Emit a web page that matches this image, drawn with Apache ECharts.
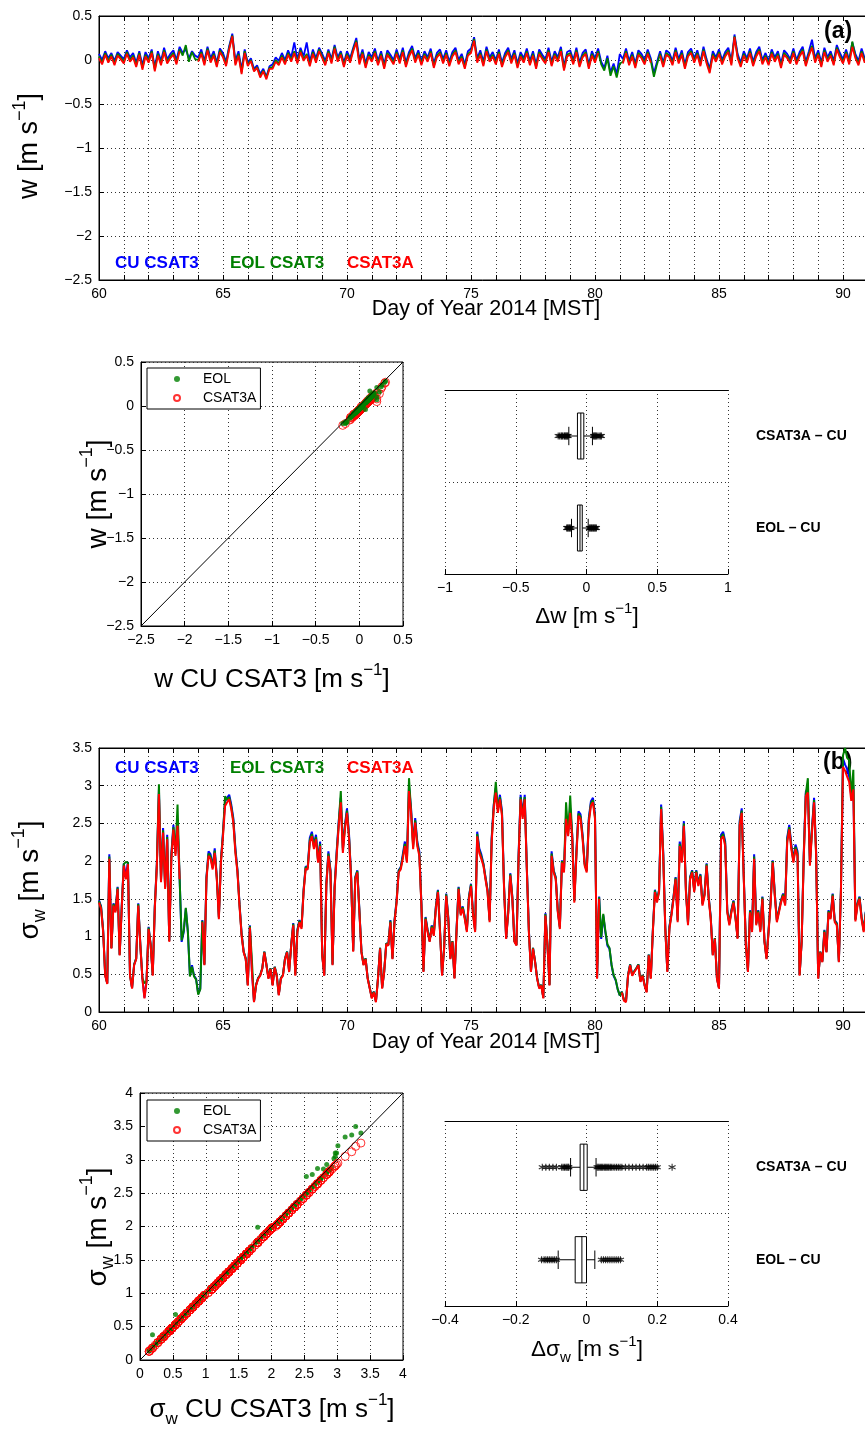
<!DOCTYPE html>
<html><head><meta charset="utf-8">
<script src="https://cdn.jsdelivr.net/npm/echarts@6/dist/echarts.min.js"></script>
<style>html,body{margin:0;padding:0;background:#fff}#c{width:865px;height:1431px}</style>
</head><body><div id="c"></div><script>
// ---------- DATA ----------
// Panel (a): vertical velocity w [m/s], 3-hourly samples from day 60
const wStart = 60, wStep = 1/8;
const wCU = [
0.07,0.0,0.1,0.02,0.08,-0.01,0.09,0.05,
0.01,0.11,0.03,0.08,-0.03,0.1,-0.06,0.09,
0.02,0.12,-0.08,0.1,-0.01,0.14,0.01,0.07,
0.11,0.0,0.15,0.08,0.12,0.02,0.1,0.05,
0.03,0.12,-0.01,0.15,0.02,0.1,-0.03,0.13,
0.08,-0.02,0.16,0.3,-0.01,0.1,-0.11,0.12,
-0.03,0.02,-0.1,-0.06,-0.16,-0.1,-0.19,-0.07,
-0.05,0.03,-0.01,0.08,0.0,0.11,0.03,0.2,
0.01,0.14,0.04,0.2,-0.02,0.12,0.02,0.14,
0.07,-0.01,0.12,0.01,0.17,0.03,0.1,-0.03,
0.1,0.02,0.14,0.25,0.0,0.12,-0.04,0.09,
0.03,0.13,-0.01,0.1,-0.05,0.11,0.06,0.0,
0.12,0.01,0.14,-0.03,0.09,0.16,0.02,0.11,
-0.01,0.1,0.03,0.13,-0.04,0.08,0.12,0.01,
0.11,-0.02,0.09,0.14,0.0,0.07,-0.05,0.1,
0.13,0.26,0.02,0.11,-0.02,0.15,0.03,0.09,
0.0,0.12,-0.03,0.08,0.14,0.01,0.11,-0.04,
0.09,0.02,0.13,-0.01,0.1,-0.05,0.12,0.06,
0.01,0.14,-0.02,0.1,0.03,0.15,-0.07,0.09,
0.11,0.0,0.14,-0.03,0.08,0.12,-0.05,0.1,
0.02,0.13,-0.02,-0.09,0.05,-0.14,-0.04,-0.16,
0.07,0.01,0.13,-0.01,0.09,-0.04,0.11,0.07,
0.0,0.12,0.02,-0.15,-0.02,0.1,-0.03,0.11,
0.08,-0.01,0.14,0.01,0.11,-0.05,0.09,0.13,
0.02,0.11,-0.02,0.15,0.01,-0.1,0.1,0.03,
0.12,0.0,0.09,0.14,-0.01,0.29,0.07,-0.03,
0.1,0.02,0.13,-0.02,0.09,0.15,0.0,0.08,
-0.01,0.12,0.03,0.1,-0.04,0.11,0.07,0.01,
0.13,0.0,0.09,0.15,-0.02,0.1,0.23,0.02,
0.11,-0.03,0.14,0.03,0.1,-0.01,0.17,0.08,
0.01,0.12,0.0,0.2,0.07,-0.01,0.13,0.02,
0.09];
const wEOL = [
0.04,-0.03,0.08,-0.01,0.06,-0.04,0.07,0.03,
-0.02,0.09,0.0,0.05,-0.06,0.08,-0.09,0.06,
-0.01,0.1,-0.11,0.07,-0.04,0.11,-0.02,0.04,
0.08,-0.03,0.12,0.05,0.17,-0.02,0.09,0.01,
0.0,0.09,-0.04,0.13,-0.01,0.07,-0.06,0.11,
0.05,-0.05,0.14,0.28,-0.04,0.07,-0.14,0.1,
-0.05,0.0,-0.12,-0.08,-0.18,-0.12,-0.2,-0.09,
-0.08,0.0,-0.04,0.05,-0.03,0.08,0.0,0.1,
-0.02,0.11,0.01,0.07,-0.05,0.09,-0.01,0.12,
0.04,-0.04,0.1,-0.02,0.15,0.0,0.08,-0.06,
0.07,-0.01,0.12,0.22,-0.03,0.09,-0.07,0.06,
0.0,0.1,-0.04,0.07,-0.08,0.08,0.03,-0.03,
0.09,-0.02,0.11,-0.06,0.06,0.13,-0.01,0.08,
-0.04,0.07,0.0,0.1,-0.07,0.05,0.09,-0.02,
0.08,-0.05,0.06,0.11,-0.03,0.04,-0.08,0.07,
0.1,0.24,-0.01,0.08,-0.05,0.12,0.0,0.06,
-0.03,0.09,-0.06,0.05,0.11,-0.02,0.08,-0.07,
0.06,-0.01,0.1,-0.04,0.07,-0.08,0.09,0.03,
-0.02,0.11,-0.05,0.07,0.0,0.12,-0.1,0.06,
0.08,-0.03,0.11,-0.06,0.05,0.09,-0.08,0.07,
-0.01,0.1,-0.05,-0.12,0.02,-0.18,-0.07,-0.2,
-0.04,-0.02,0.1,-0.04,0.06,-0.07,0.08,0.04,
-0.03,0.09,-0.01,-0.19,-0.05,0.07,-0.06,0.08,
0.05,-0.04,0.11,-0.02,0.08,-0.08,0.06,0.1,
-0.01,0.08,-0.05,0.12,-0.02,-0.13,0.07,0.0,
0.09,-0.03,0.06,0.11,-0.04,0.27,0.04,-0.06,
0.07,-0.01,0.1,-0.05,0.06,0.12,-0.03,0.05,
-0.04,0.09,0.0,0.07,-0.07,0.08,0.04,-0.02,
0.1,-0.03,0.06,0.12,-0.05,0.07,0.16,-0.01,
0.08,-0.06,0.11,0.0,0.07,-0.04,0.14,0.05,
-0.02,0.09,-0.03,0.21,0.04,-0.04,0.1,-0.01,
0.06];
const wC3A = [
0.02,-0.05,0.06,-0.03,0.04,-0.06,0.05,0.01,
-0.04,0.07,-0.02,0.03,-0.08,0.06,-0.11,0.04,
-0.03,0.08,-0.13,0.05,-0.06,0.09,-0.04,0.02,
0.06,-0.05,0.1,null,null,null,null,null,
-0.02,0.07,-0.06,0.11,-0.03,0.05,-0.08,0.09,
0.03,-0.07,0.12,0.27,-0.06,0.05,-0.16,0.08,
-0.07,-0.01,-0.13,-0.09,-0.2,-0.13,-0.22,-0.1,
-0.1,-0.02,-0.06,0.03,-0.05,0.06,-0.02,0.08,
-0.04,0.09,-0.01,0.05,-0.07,0.07,-0.03,0.1,
0.02,-0.06,0.08,-0.04,0.13,-0.02,0.06,-0.08,
0.05,-0.03,0.1,0.2,-0.05,0.07,-0.09,0.04,
-0.02,0.08,-0.06,0.05,-0.1,0.06,0.01,-0.05,
0.07,-0.04,0.09,-0.08,0.04,0.11,-0.03,0.06,
-0.06,0.05,-0.02,0.08,-0.09,0.03,0.07,-0.04,
0.06,-0.07,0.04,0.09,-0.05,0.02,-0.1,0.05,
0.08,0.22,-0.03,0.06,-0.07,0.1,-0.02,0.04,
-0.05,0.07,-0.08,0.03,0.09,-0.04,0.06,-0.09,
0.04,-0.03,0.08,-0.06,0.05,-0.1,0.07,0.01,
-0.04,0.09,-0.07,0.05,-0.02,0.1,-0.12,0.04,
0.06,-0.05,0.09,-0.08,0.03,0.07,-0.1,0.05,
-0.03,0.08,null,null,null,null,null,null,
null,-0.04,0.08,-0.06,0.04,-0.09,0.06,0.02,
-0.05,0.07,-0.03,null,null,0.05,-0.08,0.06,
0.03,-0.06,0.09,-0.04,0.06,-0.1,0.04,0.08,
-0.03,0.06,-0.07,0.1,-0.04,-0.15,0.05,-0.02,
0.07,-0.05,0.04,0.09,-0.06,0.26,0.02,-0.08,
0.05,-0.03,0.08,-0.07,0.04,0.1,-0.05,0.03,
-0.06,0.07,-0.02,0.05,-0.09,0.06,0.02,-0.04,
0.08,-0.05,0.04,0.1,-0.07,0.05,0.14,-0.03,
0.06,-0.08,0.09,-0.02,0.05,-0.06,0.12,0.03,
-0.04,0.07,-0.05,0.15,0.02,-0.06,0.08,-0.03,
0.04];

// Panel (b): sigma_w [m/s], 2-hourly samples from day 60
const sStart = 60, sStep = 1/12;
const sCU = [
1.48,1.40,1.09,0.49,0.38,2.09,0.85,1.44,1.35,1.66,0.76,1.40,
1.97,1.79,1.99,0.49,0.32,0.63,0.71,1.44,0.89,0.45,0.19,0.41,
1.13,0.89,0.49,1.40,1.97,2.95,1.75,2.44,1.66,2.35,0.94,2.09,
2.48,2.13,2.53,1.79,0.93,1.06,1.37,1.06,0.48,0.62,0.48,0.44,
0.24,0.31,1.22,0.63,1.79,2.13,2.09,1.92,2.17,1.79,1.26,2.01,
2.39,2.79,2.84,2.88,2.75,2.57,2.17,1.88,1.43,1.04,0.80,0.71,
0.36,1.15,0.54,0.14,0.36,0.45,0.49,0.58,0.80,0.63,0.45,0.58,
0.36,0.60,0.49,0.23,0.45,0.49,0.71,0.80,0.54,0.89,1.18,0.49,
1.09,1.22,1.13,1.62,1.93,1.92,2.31,2.39,2.22,2.35,2.01,2.26,
0.76,0.49,1.70,2.13,1.88,0.63,1.66,2.13,2.53,2.84,2.17,2.48,
2.70,2.35,1.79,0.81,1.79,1.88,1.35,0.80,0.63,0.71,0.45,0.32,
0.19,0.27,0.14,0.45,0.85,0.32,0.54,0.91,0.89,1.22,0.71,1.22,
1.48,1.88,1.92,2.09,2.26,2.01,2.99,2.70,2.22,2.57,2.26,2.13,
1.44,0.54,1.26,1.09,0.94,1.15,1.04,1.40,1.62,1.09,0.49,0.85,
1.57,1.26,0.71,0.94,0.45,1.09,1.66,1.31,1.40,1.26,1.09,1.53,
1.70,1.31,1.09,2.39,2.17,2.09,1.97,1.79,1.62,1.22,2.31,2.75,
2.97,2.70,2.88,2.66,1.66,0.98,1.33,1.84,1.53,0.94,0.89,2.06,
2.88,2.62,2.88,1.93,1.09,0.54,0.85,0.67,0.45,0.32,0.36,0.19,
1.31,0.89,0.36,2.13,1.88,1.79,1.35,1.13,2.01,1.88,2.62,2.39,
2.70,2.35,1.48,2.13,2.66,2.62,2.35,1.97,1.88,2.57,2.79,2.84,
2.62,0.45,1.53,0.97,1.28,1.06,0.88,0.84,0.62,0.48,0.42,0.30,
0.22,0.27,0.16,0.14,0.49,0.63,0.49,0.54,0.58,0.63,0.41,0.49,
0.36,0.27,0.76,0.45,1.09,1.62,1.48,1.62,2.75,2.13,1.13,0.54,
1.13,1.31,1.53,1.79,1.22,2.26,2.01,2.53,1.62,1.18,1.79,1.88,
1.62,1.88,1.70,1.83,1.44,1.57,1.97,1.53,1.26,0.76,0.98,0.45,
0.32,2.35,2.39,2.26,1.35,1.18,1.35,1.48,1.26,0.98,2.53,2.70,
1.79,0.89,0.54,1.35,1.09,2.09,1.18,1.35,1.09,1.53,0.94,0.71,
1.09,1.48,2.01,1.57,1.22,1.35,1.48,1.57,1.44,2.31,2.48,2.22,
2.01,2.22,2.13,0.49,0.94,2.09,2.92,2.97,1.97,2.44,2.84,2.13,
0.45,0.80,0.67,1.09,0.80,1.35,1.26,1.57,1.22,1.18,0.67,1.62,
3.36,3.28,3.22,3.12,2.86,3.01,1.23,1.44,1.53,1.26,1.09,1.33];
const sEOL = [
1.47,1.39,1.08,0.49,0.38,2.06,0.85,1.43,1.34,1.65,0.76,1.39,
1.96,1.99,1.98,0.49,0.32,0.63,0.71,1.43,0.89,0.45,0.38,0.41,
1.12,0.89,0.49,1.39,1.96,3.02,1.74,2.41,1.65,2.32,0.94,2.06,
2.45,2.10,2.75,1.78,0.95,1.08,1.38,1.07,0.47,0.60,0.47,0.43,
0.23,0.30,1.21,0.63,1.78,2.10,2.06,1.91,2.14,1.78,1.25,2.00,
2.36,2.86,2.81,2.85,2.72,2.54,2.14,1.87,1.42,1.03,0.80,0.71,
0.36,1.14,0.68,0.14,0.36,0.45,0.49,0.58,0.80,0.63,0.45,0.58,
0.36,0.60,0.49,0.23,0.45,0.49,0.71,0.80,0.54,0.89,1.17,0.49,
1.08,1.21,1.12,1.61,1.92,1.91,2.28,2.36,2.19,2.32,2.00,2.23,
0.76,0.49,1.69,2.10,1.87,0.63,1.65,2.10,2.50,2.93,2.14,2.45,
2.67,2.32,1.78,0.81,1.78,1.87,1.34,0.80,0.63,0.71,0.45,0.32,
0.19,0.27,0.14,0.45,0.85,0.32,0.54,0.91,0.89,1.21,0.71,1.21,
1.47,1.87,1.91,2.06,2.23,2.00,3.10,2.67,2.19,2.54,2.23,2.10,
1.43,0.54,1.25,1.08,0.94,1.14,1.03,1.39,1.61,1.08,0.49,0.85,
1.56,1.25,0.71,0.94,0.45,1.08,1.65,1.30,1.39,1.25,1.08,1.52,
1.69,1.30,1.08,2.36,2.14,2.06,1.96,1.78,1.61,1.21,2.28,2.72,
3.05,2.67,2.85,2.63,1.65,0.98,1.32,1.83,1.52,0.94,0.89,2.03,
2.85,2.59,2.85,1.92,1.08,0.54,0.85,0.67,0.45,0.32,0.36,0.19,
1.30,0.89,0.36,2.10,1.87,1.78,1.34,1.12,2.00,1.87,2.78,2.36,
2.87,2.32,1.47,2.10,2.63,2.59,2.32,1.96,1.87,2.54,2.76,2.81,
2.59,0.45,1.52,0.99,1.30,1.08,0.90,0.85,0.63,0.49,0.43,0.30,
0.22,0.27,0.16,0.14,0.49,0.63,0.49,0.54,0.58,0.63,0.41,0.49,
0.36,0.27,0.76,0.45,1.08,1.61,1.47,1.61,2.72,2.10,1.12,0.54,
1.12,1.30,1.52,1.78,1.21,2.23,2.00,2.50,1.61,1.17,1.78,1.87,
1.61,1.87,1.69,1.82,1.43,1.56,1.96,1.52,1.25,0.76,0.98,0.45,
0.32,2.32,2.36,2.23,1.34,1.17,1.34,1.47,1.25,0.98,2.50,2.67,
1.78,0.89,0.54,1.34,1.08,2.06,1.17,1.34,1.08,1.52,0.94,0.71,
1.08,1.47,2.00,1.56,1.21,1.34,1.47,1.56,1.43,2.28,2.45,2.19,
2.00,2.19,2.10,0.49,0.94,2.06,2.89,3.10,1.96,2.41,2.81,2.10,
0.45,0.80,0.67,1.08,0.80,1.34,1.25,1.56,1.21,1.17,0.67,1.61,
3.40,3.50,3.37,3.34,2.85,3.21,1.22,1.43,1.52,1.25,1.08,1.32];
const sC3A = [
1.45,1.37,1.06,0.48,0.37,2.03,0.84,1.41,1.32,1.63,0.75,1.37,
1.94,1.76,1.96,0.48,0.31,0.62,0.70,1.41,0.88,0.44,0.18,0.40,
1.10,0.88,0.48,1.37,1.94,2.89,1.72,2.38,1.63,2.29,0.93,2.03,
2.42,2.07,2.47,1.76,null,null,null,null,null,null,null,null,
null,null,1.19,0.62,1.76,2.07,2.03,1.89,2.11,1.76,1.23,1.98,
2.33,2.73,2.78,2.82,2.69,2.51,2.11,1.85,1.40,1.01,0.79,0.70,
0.35,1.12,0.53,0.13,0.35,0.44,0.48,0.57,0.79,0.62,0.44,0.57,
0.35,0.59,0.48,0.22,0.44,0.48,0.70,0.79,0.53,0.88,1.15,0.48,
1.06,1.19,1.10,1.59,1.90,1.89,2.25,2.33,2.16,2.29,1.98,2.20,
0.75,0.48,1.67,2.07,1.85,0.62,1.63,2.07,2.47,2.78,2.11,2.42,
2.64,2.29,1.76,0.80,1.76,1.85,1.32,0.79,0.62,0.70,0.44,0.31,
0.18,0.26,0.13,0.44,0.84,0.31,0.53,0.90,0.88,1.19,0.70,1.19,
1.45,1.85,1.89,2.03,2.20,1.98,2.93,2.64,2.16,2.51,2.20,2.07,
1.41,0.53,1.23,1.06,0.93,1.12,1.01,1.37,1.59,1.06,0.48,0.84,
1.54,1.23,0.70,0.93,0.44,1.06,1.63,1.28,1.37,1.23,1.06,1.50,
1.67,1.28,1.06,2.33,2.11,2.03,1.94,1.76,1.59,1.19,2.25,2.69,
2.91,2.64,2.82,2.60,1.63,0.97,1.30,1.81,1.50,0.93,0.88,2.00,
2.82,2.56,2.82,1.90,1.06,0.53,0.84,0.66,0.44,0.31,0.35,0.18,
1.28,0.88,0.35,2.07,1.85,1.76,1.32,1.10,1.98,1.85,2.56,2.33,
2.64,2.29,1.45,2.07,2.60,2.56,2.29,1.94,1.85,2.51,2.73,2.78,
2.56,0.44,1.50,null,null,null,null,null,null,null,null,null,
null,0.26,0.15,0.13,0.48,0.62,0.48,0.53,0.57,0.62,0.40,0.48,
0.35,0.26,0.75,0.44,1.06,1.59,1.45,1.59,2.69,2.07,1.10,0.53,
1.10,1.28,1.50,1.76,1.19,2.20,1.98,2.47,1.59,1.15,1.76,1.85,
1.59,1.85,1.67,1.80,1.41,1.54,1.94,1.50,1.23,0.75,0.97,0.44,
0.31,2.29,2.33,2.20,1.32,1.15,1.32,1.45,1.23,0.97,2.47,2.64,
1.76,0.88,0.53,1.32,1.06,2.03,1.15,1.32,1.06,1.50,0.93,0.70,
1.06,1.45,1.98,1.54,1.19,1.32,1.45,1.54,1.41,2.25,2.42,2.16,
1.98,2.16,2.07,0.48,0.93,2.03,2.86,2.91,1.94,2.38,2.78,2.07,
0.44,0.79,0.66,1.06,0.79,1.32,1.23,1.54,1.19,1.15,0.66,1.59,
3.25,3.20,3.12,3.05,2.80,2.95,1.20,1.41,1.50,1.23,1.06,1.30];

// Box plots: [min whisker, Q1, median, Q3, max whisker]
const boxCats = ['CSAT3A \u2013 CU', 'EOL \u2013 CU'];
const dwBoxC3A = [-0.125, -0.064, -0.040, -0.019, 0.042];
const dwBoxEOL = [-0.106, -0.064, -0.046, -0.030, 0.012];
const dwOutC3A = [-0.20,-0.19,-0.18,-0.175,-0.17,-0.16,-0.155,-0.15,-0.145,-0.14,-0.135,-0.13,0.05,0.055,0.06,0.065,0.07,0.08,0.09,0.10,0.105];
const dwOutEOL = [-0.14,-0.135,-0.13,-0.125,-0.12,-0.115,-0.11,0.02,0.025,0.03,0.035,0.04,0.045,0.05,0.055,0.06,0.065,0.07];
const dsBoxC3A = [-0.045, -0.018, -0.0075, 0.002, 0.027];
const dsBoxEOL = [-0.080, -0.032, -0.013, 0.0, 0.0235];
const dsOutC3A = [-0.125,-0.115,-0.105,-0.095,-0.085,-0.07,-0.066,-0.062,-0.058,-0.055,-0.052,-0.05,
  0.03,0.033,0.036,0.04,0.043,0.046,0.05,0.053,0.056,0.06,0.063,0.067,0.07,0.075,0.08,0.085,0.09,0.095,0.10,
  0.11,0.12,0.13,0.14,0.15,0.16,0.17,0.175,0.18,0.185,0.19,0.195,0.20,0.242];
const dsOutEOL = [-0.127,-0.12,-0.115,-0.11,-0.105,-0.10,-0.095,-0.09,-0.085,0.042,0.048,0.054,0.06,0.066,0.072,0.078,0.084,0.09,0.096];

const diagA = [[-2.5,-2.5],[0.5,0.5]];
const diagB = [[0,0],[4,4]];

// ---------- BUILD ----------
const FONT = 'Liberation Sans';
const BLUE = '#0000ff', GREEN = '#008000', RED = '#ff0000';
const ts = (start, step, arr) => arr.map((v, i) => [start + i * step, v]);
const pairs = (xs, ys) => { const o = []; for (let i = 0; i < xs.length; i++) if (xs[i] != null && ys[i] != null) o.push([xs[i], ys[i]]); return o; };
const fmt = v => String(Math.round(v * 100) / 100).replace('-', '\u2212');
const grid = { type: [1, 3], color: '#333', width: 1 };

function vAxis(o) {
  const base = {
    type: 'value', axisLine: { show: true, onZero: false, lineStyle: { color: '#000', width: 1 } },
    axisTick: { show: true, inside: true, length: 5, lineStyle: { color: '#000' } },
    axisLabel: { color: '#000', fontFamily: FONT, fontSize: 14, formatter: fmt, margin: 7 },
    splitLine: { show: true, lineStyle: grid }
  };
  return Object.assign(base, o);
}
const dayFmt = v => (Math.abs(v % 5) < 1e-6 ? String(v) : '');

const grids = [
  { left: 99, top: 16, width: 768.8, height: 264 },
  { left: 141, top: 362, width: 262, height: 264 },
  { left: 445, top: 390, width: 283, height: 184 },
  { left: 99, top: 748, width: 768.8, height: 264 },
  { left: 140, top: 1093, width: 263, height: 267 },
  { left: 445, top: 1121, width: 283, height: 185 }
].map((g, i) => Object.assign({ outerBoundsMode: 'none', containLabel: false,
  show: [0, 1, 3, 4].includes(i), borderColor: '#000', borderWidth: 1, backgroundColor: 'transparent' }, g));

const xAxes = [
  vAxis({ gridIndex: 0, min: 60, max: 91, interval: 1, axisLabel: { color: '#000', fontFamily: FONT, fontSize: 14, formatter: dayFmt, margin: 7 } }),
  vAxis({ gridIndex: 0, position: 'top', min: 60, max: 91, interval: 1, axisLabel: { show: false }, splitLine: { show: false } }),
  vAxis({ gridIndex: 1, min: -2.5, max: 0.5, interval: 0.5 }),
  vAxis({ gridIndex: 2, min: -1, max: 1, interval: 0.5 }),
  vAxis({ gridIndex: 2, position: 'top', min: -1, max: 1, interval: 0.5, axisTick: { show: false }, axisLabel: { show: false }, splitLine: { show: false } }),
  vAxis({ gridIndex: 3, min: 60, max: 91, interval: 1, axisLabel: { color: '#000', fontFamily: FONT, fontSize: 14, formatter: dayFmt, margin: 7 } }),
  vAxis({ gridIndex: 3, position: 'top', min: 60, max: 91, interval: 1, axisLabel: { show: false }, splitLine: { show: false } }),
  vAxis({ gridIndex: 4, min: 0, max: 4, interval: 0.5 }),
  vAxis({ gridIndex: 5, min: -0.4, max: 0.4, interval: 0.2 }),
  vAxis({ gridIndex: 5, position: 'top', min: -0.4, max: 0.4, interval: 0.2, axisTick: { show: false }, axisLabel: { show: false }, splitLine: { show: false } })
];
const catAxis = gi => ({
  type: 'category', gridIndex: gi, data: boxCats, inverse: true, position: 'right',
  axisLine: { show: false }, axisTick: { show: false },
  axisLabel: { margin: 28, align: 'left', fontWeight: 'bold', fontSize: 14, fontFamily: FONT, color: '#000', interval: 0 },
  splitLine: { show: true, interval: 0, lineStyle: grid }
});
const yAxes = [
  vAxis({ gridIndex: 0, min: -2.5, max: 0.5, interval: 0.5 }),
  vAxis({ gridIndex: 1, min: -2.5, max: 0.5, interval: 0.5 }),
  catAxis(2),
  vAxis({ gridIndex: 3, min: 0, max: 3.5, interval: 0.5 }),
  vAxis({ gridIndex: 4, min: 0, max: 4, interval: 0.5 }),
  catAxis(5)
];

function lineSeries(name, data, color, xi, yi, w) {
  return { type: 'line', name, data, xAxisIndex: xi, yAxisIndex: yi, showSymbol: false, symbol: 'none',
    connectNulls: false, lineStyle: { color, width: w }, itemStyle: { color }, silent: true, animation: false };
}
function scatterPair(xi, yi, eolPts, c3aPts, diag, greenOnTop) {
  const eol = { type: 'scatter', name: 'EOL', xAxisIndex: xi, yAxisIndex: yi, data: eolPts, symbol: 'circle', symbolSize: 5,
      itemStyle: { color: GREEN }, silent: true, z: greenOnTop ? 3 : 2 };
  const c3a = { type: 'scatter', name: 'CSAT3A', xAxisIndex: xi, yAxisIndex: yi, data: c3aPts, symbol: 'circle', symbolSize: 8,
      itemStyle: { color: 'rgba(0,0,0,0)', borderColor: RED, borderWidth: 1 }, silent: true, z: greenOnTop ? 2 : 3 };
  return [eol, c3a,
    { type: 'line', name: 'diag', xAxisIndex: xi, yAxisIndex: yi, data: diag, symbol: 'none', z: 5,
      lineStyle: { color: '#000', width: 1 }, silent: true }
  ];
}
function boxRender(params, api) {
  const cat = api.value(0);
  const mn = api.coord([api.value(1), cat]), q1 = api.coord([api.value(2), cat]), md = api.coord([api.value(3), cat]),
        q3 = api.coord([api.value(4), cat]), mx = api.coord([api.value(5), cat]);
  const band = api.size([0, 1])[1];
  const y = mn[1], h = band * 0.5, ch = band * 0.2;
  const st = { stroke: '#000', lineWidth: 1, fill: null };
  return { type: 'group', children: [
    { type: 'line', shape: { x1: mn[0], y1: y, x2: q1[0], y2: y }, style: st },
    { type: 'line', shape: { x1: q3[0], y1: y, x2: mx[0], y2: y }, style: st },
    { type: 'line', shape: { x1: mn[0], y1: y - ch / 2, x2: mn[0], y2: y + ch / 2 }, style: st },
    { type: 'line', shape: { x1: mx[0], y1: y - ch / 2, x2: mx[0], y2: y + ch / 2 }, style: st },
    { type: 'rect', shape: { x: q1[0], y: y - h / 2, width: q3[0] - q1[0], height: h }, style: { stroke: '#000', fill: '#fff', lineWidth: 1 } },
    { type: 'line', shape: { x1: md[0], y1: y - h / 2, x2: md[0], y2: y + h / 2 }, style: st }
  ] };
}
const STAR = 'path://M0,-10L0,10M-8.66,-5L8.66,5M-8.66,5L8.66,-5';
function boxSeries(xi, yi, boxA, boxE, outA, outE) {
  return [
    { type: 'custom', xAxisIndex: xi, yAxisIndex: yi, renderItem: boxRender, silent: true,
      encode: { x: [1, 2, 3, 4, 5], y: 0 },
      data: [[0].concat(boxA), [1].concat(boxE)] },
    { type: 'scatter', xAxisIndex: xi, yAxisIndex: yi, symbol: STAR, symbolSize: 7, silent: true,
      itemStyle: { color: 'rgba(0,0,0,0)', borderColor: '#000', borderWidth: 1.1 },
      data: outA.map(v => [v, 0]).concat(outE.map(v => [v, 1])) }
  ];
}

const series = [
  lineSeries('CU CSAT3', ts(wStart, wStep, wCU), BLUE, 0, 0, 1.8),
  lineSeries('EOL CSAT3', ts(wStart, wStep, wEOL), GREEN, 0, 0, 1.8),
  lineSeries('CSAT3A ', ts(wStart, wStep, wC3A), RED, 0, 0, 1.8),
  ...scatterPair(2, 1, pairs(wCU, wEOL), pairs(wCU, wC3A), diagA, true),
  ...boxSeries(3, 2, dwBoxC3A, dwBoxEOL, dwOutC3A, dwOutEOL),
  lineSeries('CU CSAT3', ts(sStart, sStep, sCU), BLUE, 5, 3, 2),
  lineSeries('EOL CSAT3', ts(sStart, sStep, sEOL), GREEN, 5, 3, 2),
  lineSeries('CSAT3A ', ts(sStart, sStep, sC3A), RED, 5, 3, 2),
  ...scatterPair(7, 4, pairs(sCU, sEOL), pairs(sCU, sC3A), diagB, false),
  ...boxSeries(8, 5, dsBoxC3A, dsBoxEOL, dsOutC3A, dsOutEOL)
];

const legendBase = {
  data: ['EOL', 'CSAT3A'], orient: 'vertical', left: 147, selectedMode: false,
  itemWidth: 42, itemHeight: 6, itemGap: 5, padding: [4, 4, 4, 26],
  backgroundColor: '#fff', borderColor: '#000', borderWidth: 1, borderRadius: 0,
  textStyle: { fontFamily: FONT, fontSize: 14, color: '#000' }
};
const legends = [Object.assign({ top: 368 }, legendBase), Object.assign({ top: 1100 }, legendBase)];

// titles (rich text with super/subscripts)
function rich(size) {
  const s = Math.round(size * 0.66);
  return {
    b: { fontSize: size, fontFamily: FONT, fill: '#000', color: '#000', lineHeight: Math.round(size * 1.4), verticalAlign: 'middle' },
    sup: { fontSize: s, fontFamily: FONT, fill: '#000', color: '#000', lineHeight: s, verticalAlign: 'top' },
    sub: { fontSize: s, fontFamily: FONT, fill: '#000', color: '#000', lineHeight: s, verticalAlign: 'bottom' }
  };
}
function title(text, x, y, size, rot) {
  const el = { type: 'text', x, y, silent: true, style: { text, rich: rich(size), align: 'center', verticalAlign: 'middle', fontFamily: FONT, fontSize: size, fill: '#000' } };
  if (rot) el.rotation = Math.PI / 2;
  return el;
}
const unit = '{b| [m s}{sup|\u22121}{b|]}';
function label(text, x, y, color, size) {
  return { type: 'text', x, y, silent: true, style: { text, fill: color, fontFamily: FONT, fontWeight: 'bold', fontSize: size, verticalAlign: 'middle', align: 'left' } };
}
const graphics = [
  title('{b|w}' + unit, 30, 146, 27, true),
  title('{b|Day of Year 2014 [MST]}', 486, 309, 21.5, false),
  title('{b|w}' + unit, 98, 494, 28, true),
  title('{b|w CU CSAT3}' + unit, 272, 680, 26, false),
  title('{b|\u0394w}' + unit, 587, 617, 22.5, false),
  title('{b|\u03c3}{sub|w}' + unit, 30, 880, 28, true),
  title('{b|Day of Year 2014 [MST]}', 486, 1042, 21.5, false),
  title('{b|\u03c3}{sub|w}' + unit, 98, 1227, 28, true),
  title('{b|\u03c3}{sub|w}{b| CU CSAT3}' + unit, 272, 1410, 26, false),
  title('{b|\u0394\u03c3}{sub|w}' + unit, 587, 1350, 22.5, false),
  label('CU CSAT3', 115, 263, BLUE, 17), label('EOL CSAT3', 230, 263, GREEN, 17), label('CSAT3A', 347, 263, RED, 17),
  label('CU CSAT3', 115, 768, BLUE, 17), label('EOL CSAT3', 230, 768, GREEN, 17), label('CSAT3A', 347, 768, RED, 17),
  label('(a)', 824, 32, '#000', 23), label('(b)', 823, 763, '#000', 23)
];

const chart = echarts.init(document.getElementById('c'), null, { renderer: 'canvas' });
chart.setOption({
  animation: false, backgroundColor: '#fff',
  grid: grids, xAxis: xAxes, yAxis: yAxes, legend: legends, series, graphic: graphics
});
</script></body></html>
